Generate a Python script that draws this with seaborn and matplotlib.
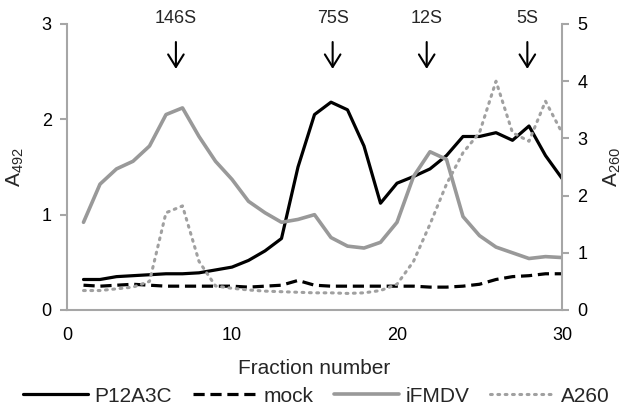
import numpy as np
import pandas as pd
import matplotlib
matplotlib.use("Agg")
import matplotlib.pyplot as plt
import seaborn as sns

fractions = list(range(1, 31))
p12a3c = [0.32, 0.32, 0.35, 0.36, 0.37, 0.38, 0.38, 0.39, 0.42, 0.45,
          0.52, 0.62, 0.75, 1.50, 2.05, 2.18, 2.10, 1.72, 1.12, 1.33,
          1.40, 1.48, 1.62, 1.82, 1.82, 1.86, 1.78, 1.93, 1.62, 1.38]
mock = [0.26, 0.25, 0.26, 0.27, 0.26, 0.25, 0.25, 0.25, 0.25, 0.25,
        0.24, 0.25, 0.26, 0.31, 0.26, 0.25, 0.25, 0.25, 0.25, 0.25,
        0.25, 0.24, 0.24, 0.25, 0.27, 0.32, 0.35, 0.36, 0.38, 0.38]
ifmdv = [0.92, 1.32, 1.48, 1.56, 1.72, 2.05, 2.12, 1.82, 1.56, 1.37,
         1.14, 1.02, 0.92, 0.95, 1.00, 0.76, 0.67, 0.65, 0.71, 0.92,
         1.40, 1.66, 1.58, 0.98, 0.78, 0.66, 0.60, 0.54, 0.56, 0.55]
a260 = [0.34, 0.34, 0.37, 0.40, 0.50, 1.70, 1.82, 0.85, 0.42, 0.38,
        0.35, 0.33, 0.32, 0.31, 0.30, 0.30, 0.29, 0.30, 0.34, 0.45,
        0.85, 1.50, 2.20, 2.75, 3.10, 4.00, 3.10, 2.95, 3.65, 3.10]
markers_x = [6.6, 16.1, 21.8, 27.9]
markers_lab = ["146S", "75S", "12S", "5S"]
x_ticks = [0, 10, 20, 30]
left_ticks = [0, 1, 2, 3]
right_ticks = [0, 1, 2, 3, 4, 5]

sns.set_theme(style="white")
plt.rcParams["font.family"] = ["Liberation Sans", "DejaVu Sans"]
plt.rcParams["mathtext.default"] = "regular"

FS = 13
FSL = 15
SPINE = "#a6a6a6"
GRAY = "#999999"

fig = plt.figure(figsize=(6.23, 4.08), dpi=100)
ax = fig.add_axes([67/623, 1-310/408, (562-67)/623, (310-24)/408])
ax2 = ax.twinx()

df = pd.DataFrame({"x": fractions, "p": p12a3c, "m": mock, "i": ifmdv, "a": a260})

sns.lineplot(data=df, x="x", y="p", ax=ax, color="black", lw=2.3, label="P12A3C", legend=False)
sns.lineplot(data=df, x="x", y="m", ax=ax, color="black", lw=2.3, label="mock", legend=False)
ax.lines[-1].set_linestyle((0, (3.5, 1.8)))
sns.lineplot(data=df, x="x", y="i", ax=ax, color=GRAY, lw=2.6, label="iFMDV", legend=False)
sns.lineplot(data=df, x="x", y="a", ax=ax2, color="#a0a0a0", lw=2.2, label="A260", legend=False)
ax2.lines[-1].set_linestyle((0, (0.6, 1.8)))
ax2.lines[-1].set_dash_capstyle("round")

ax.set_xlim(0, 30)
ax.set_ylim(0, 3)
ax2.set_ylim(0, 5)
ax.set_xticks(x_ticks)
ax.set_yticks(left_ticks)
ax2.set_yticks(right_ticks)

for a in (ax, ax2):
    for s in a.spines.values():
        s.set_color(SPINE)
        s.set_linewidth(1.5)
    a.spines["top"].set_visible(False)
    a.grid(False)
ax2.spines["left"].set_visible(False)
ax2.spines["bottom"].set_visible(False)
ax.spines["right"].set_visible(False)

ax.tick_params(axis="x", length=0, pad=12, labelsize=FS, colors="black")
ax.tick_params(axis="y", left=True, length=5, width=1.5, color=SPINE, pad=6, labelsize=FS, labelcolor="black")
ax2.tick_params(axis="y", right=True, length=5, width=1.5, color=SPINE, pad=6, labelsize=FS, labelcolor="black")

ax.set_xlabel("Fraction number", fontsize=FSL, labelpad=11)
ax.set_ylabel("A$_{492}$", fontsize=FSL)
ax2.set_ylabel("A$_{260}$", fontsize=FSL, rotation=90)
ax.yaxis.set_label_coords(-0.083, 0.5)
ax2.yaxis.set_label_coords(1.080, 0.5)

for xm, lab in zip(markers_x, markers_lab):
    ax.annotate("", xy=(xm, 2.50), xytext=(xm, 2.84),
                arrowprops=dict(arrowstyle="->,head_length=0.45,head_width=0.28",
                                color="black", lw=1.5, mutation_scale=20),
                annotation_clip=False)
    ax.text(xm, 3.06, lab, ha="center", va="center", fontsize=FS, clip_on=False)

h1, l1 = ax.get_legend_handles_labels()
h2, l2 = ax2.get_legend_handles_labels()
fig.legend(h1 + h2, l1 + l2, loc="center", bbox_to_anchor=(0.508, 1-396/408),
           ncol=4, frameon=False, fontsize=FSL, handlelength=3.1,
           handletextpad=0.3, columnspacing=1.0, borderpad=0.1)

fig.savefig("out.png", dpi=100)
